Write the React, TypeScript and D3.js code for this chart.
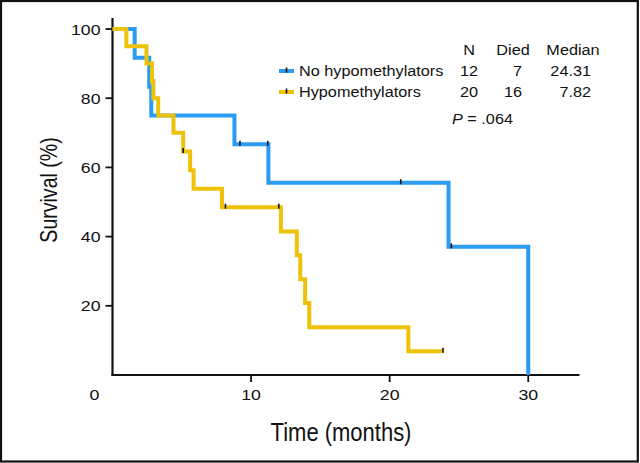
import React from "react";
import * as d3 from "d3";

// ---- data ----
const groups = ["No hypomethylators", "Hypomethylators"];
const groupN = [12, 20];
const groupDied = [7, 16];
const groupMedian = ["24.31", "7.82"];
const pValue = ".064";

// Kaplan-Meier steps (time in months, survival in %)
const blueTimes = [0, 1.6, 2.65, 2.8, 8.8, 11.25, 24.25, 30.0];
const blueSurv = [100, 91.67, 83.33, 75, 66.67, 55.56, 37.04, 0];
const blueEnd = 30.0;
const blueCensor = [9.2, 11.2, 20.8, 24.45];

const yellowTimes = [0, 1.0, 2.45, 2.85, 2.95, 3.3, 4.4, 5.1, 5.6, 5.85, 7.9, 12.15, 13.3, 13.55, 13.9, 14.2, 21.35];
const yellowSurv = [100, 95, 90, 85, 80, 75, 70, 64.6, 59.2, 53.8, 48.5, 41.5, 34.6, 27.7, 20.8, 13.8, 6.9];
const yellowEnd = 23.85;
const yellowCensor = [5.1, 8.15, 12.0, 23.85];

const xTicks = [10, 20, 30];
const yTicks = [20, 40, 60, 80, 100];

const BLUE = "#2b9bf2";
const YELLOW = "#efc20a";
const FONT = "'Liberation Sans', Arial, sans-serif";

function survAt(times: number[], surv: number[], t: number) {
  let v = surv[0];
  for (let i = 0; i < times.length; i++) if (times[i] <= t) v = surv[i];
  return v;
}

function T(props: { x: number; y: number; sx?: number; anchor?: string; size: number; children: any; rotate?: number }) {
  const { x, y, sx = 1, anchor = "start", size, children, rotate = 0 } = props;
  return (
    <text
      transform={`translate(${x},${y}) rotate(${rotate}) scale(${sx},1)`}
      textAnchor={anchor as any}
      fontSize={size}
      fontFamily={FONT}
      fill="#111"
    >
      {children}
    </text>
  );
}

export default function App() {
  const W = 640, H = 463;
  const x = d3.scaleLinear().domain([0, 33.7]).range([112.5, 579.5]);
  const y = d3.scaleLinear().domain([0, 100]).range([375, 29]);

  const line = d3
    .line<[number, number]>()
    .x((d) => x(d[0]))
    .y((d) => y(d[1]))
    .curve(d3.curveStepAfter);

  const bluePts: [number, number][] = blueTimes.map((t, i) => [t, blueSurv[i]]);
  bluePts.push([blueEnd, blueSurv[blueSurv.length - 1]]);
  const yellowPts: [number, number][] = yellowTimes.map((t, i) => [t, yellowSurv[i]]);
  yellowPts.push([yellowEnd, yellowSurv[yellowSurv.length - 1]]);

  const marks = (ct: number[], times: number[], surv: number[], k: string) =>
    ct.map((t, i) => {
      const v = survAt(times, surv, t);
      return (
        <line key={k + i} x1={x(t)} x2={x(t)} y1={y(v) - 3.5} y2={y(v) + 1.5} stroke="#111" strokeWidth={1.6} />
      );
    });

  const sxText = 1.16;
  const legendY = [71, 92];
  const colors = [BLUE, YELLOW];

  return (
    <svg width={W} height={H} style={{ position: "absolute", left: 0, top: 0, background: "#fff" }}>
      <rect x={0} y={0} width={W} height={H} fill="#fff" />
      <rect x={1} y={1} width={636.8} height={460.5} fill="none" stroke="#111" strokeWidth={2.2} />

      {/* axes */}
      <line x1={x(0)} x2={x(0)} y1={y(103.2)} y2={y(0) + 1} stroke="#111" strokeWidth={2.2} />
      <line x1={x(0) - 1} x2={x(33.7)} y1={y(0)} y2={y(0)} stroke="#111" strokeWidth={2.2} />
      {yTicks.map((v) => (
        <g key={"yt" + v}>
          <line x1={x(0) - 7} x2={x(0)} y1={y(v)} y2={y(v)} stroke="#111" strokeWidth={1.8} />
          <T x={100.5} y={y(v) + 5.5} anchor="end" size={15} sx={1.18}>{v}</T>
        </g>
      ))}
      {xTicks.map((v) => (
        <g key={"xt" + v}>
          <line x1={x(v)} x2={x(v)} y1={y(0)} y2={y(0) + 7} stroke="#111" strokeWidth={1.8} />
          <T x={x(v)} y={399.5} anchor="middle" size={15} sx={1.18}>{v}</T>
        </g>
      ))}
      <T x={x(0) - 18} y={399.5} anchor="middle" size={15} sx={1.18}>0</T>

      {/* axis titles */}
      <T x={341} y={441} anchor="middle" size={25} sx={0.88}>Time (months)</T>
      <T x={57} y={190} anchor="middle" size={23} sx={0.85} rotate={-90}>Survival (%)</T>

      {/* curves */}
      <path d={line(bluePts) || ""} fill="none" stroke={BLUE} strokeWidth={4} strokeLinejoin="miter" />
      <path d={line(yellowPts) || ""} fill="none" stroke={YELLOW} strokeWidth={4} strokeLinejoin="miter" />
      {marks(blueCensor, blueTimes, blueSurv, "bc")}
      {marks(yellowCensor, yellowTimes, yellowSurv, "yc")}

      {/* legend / table */}
      <T x={469} y={55} anchor="middle" size={14} sx={sxText}>N</T>
      <T x={513} y={55} anchor="middle" size={14} sx={sxText}>Died</T>
      <T x={573} y={55} anchor="middle" size={14} sx={sxText}>Median</T>
      {groups.map((g, i) => (
        <g key={g}>
          <line x1={279} x2={294} y1={legendY[i]} y2={legendY[i]} stroke={colors[i]} strokeWidth={4} />
          <line x1={286.5} x2={286.5} y1={legendY[i] - 3.5} y2={legendY[i] + 1.5} stroke="#111" strokeWidth={1.6} />
          <T x={299} y={legendY[i] + 5} size={14} sx={sxText}>{g}</T>
          <T x={478} y={legendY[i] + 5} anchor="end" size={14} sx={sxText}>{groupN[i]}</T>
          <T x={522} y={legendY[i] + 5} anchor="end" size={14} sx={sxText}>{groupDied[i]}</T>
          <T x={591} y={legendY[i] + 5} anchor="end" size={14} sx={sxText}>{groupMedian[i]}</T>
        </g>
      ))}
      <text transform={`translate(452,124) scale(${sxText},1)`} fontSize={14} fontFamily={FONT} fill="#111">
        <tspan fontStyle="italic">P</tspan>
        <tspan> = {pValue}</tspan>
      </text>
    </svg>
  );
}
